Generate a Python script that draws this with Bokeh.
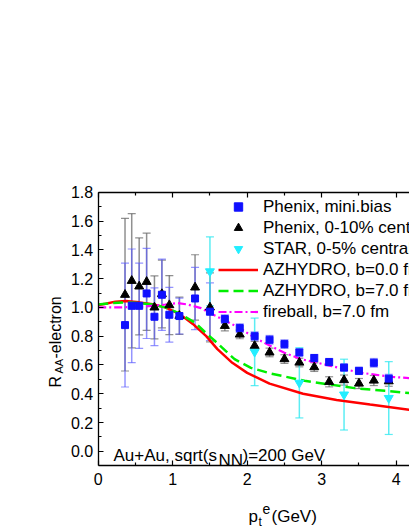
import math
from bokeh.plotting import figure
from bokeh.models import (Range1d, FixedTicker, LinearAxis, Label, Legend, LegendItem,
                          Whisker, TeeHead, ColumnDataSource)
from bokeh.embed import file_html
from bokeh.resources import INLINE

FONT = "Liberation Sans"

# ---------------- data ----------------
mb_x = [0.36, 0.45, 0.55, 0.65, 0.755, 0.855, 0.955, 1.09, 1.30, 1.50, 1.70, 1.90,
        2.10, 2.30, 2.50, 2.70, 2.90, 3.10, 3.30, 3.50, 3.70, 3.90]
mb_y = [0.877, 1.011, 1.011, 1.097, 0.935, 1.088, 0.949, 0.94, 1.062, 0.97, 0.919, 0.856,
        0.80, 0.775, 0.745, 0.687, 0.648, 0.62, 0.582, 0.559, 0.615, 0.505]
mb_err = [0.43, 0.395, 0.296, 0.313, 0.20, 0.248, 0.19, 0.125, 0.216, 0.20, 0.03, 0.03,
          0.03, 0.03, 0.03, 0.025, 0.025, 0.025, 0.025, 0.025, 0.03, 0.03]

c_x = [0.36, 0.45, 0.55, 0.65, 0.755, 0.855, 0.955, 1.09, 1.30, 1.50, 1.70, 1.90,
       2.10, 2.30, 2.50, 2.70, 2.90, 3.10, 3.30, 3.50, 3.70, 3.90]
c_y = [1.088, 1.185, 1.146, 1.178, 1.0, 1.093, 1.016, 0.942, 1.139, 1.0, 0.872, 0.812,
       0.733, 0.687, 0.641, 0.617, 0.585, 0.483, 0.495, 0.471, 0.492, 0.487]
c_err = [0.53, 0.466, 0.337, 0.338, 0.219, 0.235, 0.205, 0.13, 0.227, 0.24, 0.035, 0.03,
         0.03, 0.03, 0.03, 0.03, 0.03, 0.035, 0.035, 0.035, 0.035, 0.035]

star_x = [1.50, 2.10, 2.70, 3.30, 3.90]
star_y = [1.25, 0.691, 0.476, 0.394, 0.37]
star_err = [0.24, 0.235, 0.244, 0.246, 0.253]

hyd0_x = [0, 0.1, 0.23, 0.37, 0.55, 0.73, 0.9, 1.09, 1.27, 1.45, 1.6, 1.8, 2.0, 2.3,
          2.75, 3.2, 3.65, 4.2]
hyd0_y = [1.016, 1.025, 1.04, 1.045, 1.035, 1.022, 1.0, 0.955, 0.885, 0.80, 0.71, 0.615,
          0.545, 0.47, 0.40, 0.357, 0.325, 0.287]

hyd7_x = [0, 0.2, 0.37, 0.55, 0.73, 0.9, 1.09, 1.31, 1.45, 1.56, 1.83, 2.05, 2.32, 2.77,
          3.44, 3.85, 4.2]
hyd7_y = [1.02, 1.03, 1.035, 1.03, 1.02, 1.0, 0.958, 0.89, 0.82, 0.77, 0.64, 0.58, 0.54,
          0.49, 0.439, 0.42, 0.404]

fb_x = [0, 0.3, 0.6, 0.9, 1.07, 1.2, 1.38, 1.56, 1.7, 1.9, 2.1, 2.3, 2.5, 2.72, 3.12,
        3.51, 3.92, 4.2]
fb_y = [1.0, 1.0, 1.005, 1.02, 1.03, 1.02, 0.995, 0.945, 0.91, 0.855, 0.79, 0.735, 0.685,
        0.641, 0.594, 0.547, 0.518, 0.508]

x_ticks = [0, 1, 2, 3, 4]
x_minor = [0.5, 1.5, 2.5, 3.5]
y_ticks = [0.0, 0.2, 0.4, 0.6, 0.8, 1.0, 1.2, 1.4, 1.6, 1.8]
y_minor = [0.1, 0.3, 0.5, 0.7, 0.9, 1.1, 1.3, 1.5, 1.7]

legend_labels = ["Phenix, mini.bias", "Phenix, 0-10% central", "STAR, 0-5% central",
                 "AZHYDRO, b=0.0 fm", "AZHYDRO, b=7.0 fm", "fireball, b=7.0 fm"]

# ---------------- figure (frame spans the whole canvas, axes fixed at data positions) ----
W, H = 409, 529
X0PX, XSCALE = 97.7, 74.5     # pixel of x=0, pixels per unit
Y0PX, YSCALE = 450.8, 143.9   # pixel of y=0, pixels per unit

p = figure(width=W, height=H, output_backend="svg", toolbar_location=None,
           x_range=Range1d(-X0PX / XSCALE, (W - X0PX) / XSCALE),
           y_range=Range1d(-(H - Y0PX) / YSCALE, Y0PX / YSCALE),
           min_border=0, min_border_left=0, min_border_right=0,
           min_border_top=0, min_border_bottom=0)
p.outline_line_color = None
p.xgrid.visible = False
p.ygrid.visible = False


def style_axis(ax, show_labels=True):
    ax.axis_line_color = "black"
    ax.axis_line_width = 1.3
    ax.major_tick_line_color = "black"
    ax.minor_tick_line_color = "black"
    ax.major_tick_line_width = 1.2
    ax.minor_tick_line_width = 1.2
    ax.major_tick_in = 5
    ax.major_tick_out = 0
    ax.minor_tick_in = 3
    ax.minor_tick_out = 0
    ax.major_label_text_font = FONT
    ax.major_label_text_font_size = "16px"
    ax.major_label_text_color = "black" if show_labels else None
    ax.major_label_standoff = 7


xa = p.xaxis[0]
ya = p.yaxis[0]
xa.ticker = FixedTicker(ticks=x_ticks, minor_ticks=x_minor)
ya.ticker = FixedTicker(ticks=y_ticks, minor_ticks=y_minor)
xa.major_label_overrides = {t: str(t) for t in x_ticks}
ya.major_label_overrides = {t: f"{t:.1f}" for t in y_ticks}
style_axis(xa)
style_axis(ya)
ya.major_label_standoff = 5
xa.fixed_location = -0.1
ya.fixed_location = 0
xa.bounds = (0, 4.3)
ya.bounds = (-0.1, 1.8)

top = LinearAxis(ticker=FixedTicker(ticks=x_ticks, minor_ticks=x_minor))
style_axis(top, show_labels=False)
top.fixed_location = 1.8
top.bounds = (0, 4.3)
p.add_layout(top, "above")

# ---------------- error bars ----------------
def add_err(xs, ys, es, color, alpha):
    src = ColumnDataSource(dict(x=xs, lo=[y - e for y, e in zip(ys, es)],
                                hi=[y + e for y, e in zip(ys, es)]))
    w = Whisker(base="x", upper="hi", lower="lo", source=src, level="underlay",
                line_color=color, line_alpha=alpha, line_width=1.5,
                upper_head=TeeHead(size=8, line_color=color, line_alpha=alpha, line_width=1.2),
                lower_head=TeeHead(size=8, line_color=color, line_alpha=alpha, line_width=1.2))
    p.add_layout(w)


add_err(c_x, c_y, c_err, "#555555", 0.65)
add_err(mb_x, mb_y, mb_err, "#5a5aff", 0.65)
add_err(star_x, star_y, star_err, "#33e8f0", 0.8)

# ---------------- curves ----------------
r_h0 = p.line(hyd0_x, hyd0_y, line_color="#ff0000", line_width=2.5)
r_h7 = p.line(hyd7_x, hyd7_y, line_color="#00ee00", line_width=2.5, line_dash="10 5")
r_fb = p.line(fb_x, fb_y, line_color="#ff00ff", line_width=2.2, line_dash="8 3 2 3")

# ---------------- markers ----------------
r_c = p.scatter(c_x, c_y, marker="triangle", size=9, fill_color="black", line_color="black")
r_mb = p.scatter(mb_x, mb_y, marker="square", size=7, fill_color="#1010ff", line_color="#1010ff")
r_st = p.scatter(star_x, star_y, marker="inverted_triangle", size=9,
                 fill_color="#22eeff", line_color="#22eeff")

# ---------------- legend ----------------
items = [LegendItem(label=legend_labels[0], renderers=[r_mb]),
         LegendItem(label=legend_labels[1], renderers=[r_c]),
         LegendItem(label=legend_labels[2], renderers=[r_st]),
         LegendItem(label=legend_labels[3], renderers=[r_h0]),
         LegendItem(label=legend_labels[4], renderers=[r_h7]),
         LegendItem(label=legend_labels[5], renderers=[r_fb])]
leg = Legend(items=items, location=(218, 207), padding=0, margin=0, spacing=0,
             glyph_width=40, glyph_height=21, label_height=21, label_standoff=5,
             label_text_font=FONT, label_text_font_size="17px", label_text_color="black",
             border_line_color=None, background_fill_alpha=0)
p.add_layout(leg)

# ---------------- texts ----------------
def px2x(px):
    return (px - X0PX) / XSCALE


def py2y(py):
    return (Y0PX - py) / YSCALE


def lab(px, py, text, size, angle=0.0):
    p.add_layout(Label(x=px2x(px), y=py2y(py), text=text, text_font=FONT,
                       text_font_size=size, text_color="black", angle=angle,
                       text_align="left", text_baseline="alphabetic"))


# y axis label R_AA-electron (rotated)
lab(55, 387, "R", "16px", math.pi / 2)
lab(58, 373, "AA", "11px", math.pi / 2)
lab(55, 358, "-electron", "16px", math.pi / 2)

# x axis label p_t^e(GeV)
lab(248, 516, "p", "17px")
lab(258, 521.5, "t", "12px")
lab(262, 508.5, "e", "14px")
lab(271, 516, "(GeV)", "17px")

# annotation Au+Au, sqrt(s_NN)=200 GeV
lab(113, 455, "Au+Au, sqrt(s", "17px")
lab(218, 460, "NN", "17px")
lab(242, 455, ")=200 GeV", "17px")

open("out.html", "w").write(file_html(p, INLINE))
